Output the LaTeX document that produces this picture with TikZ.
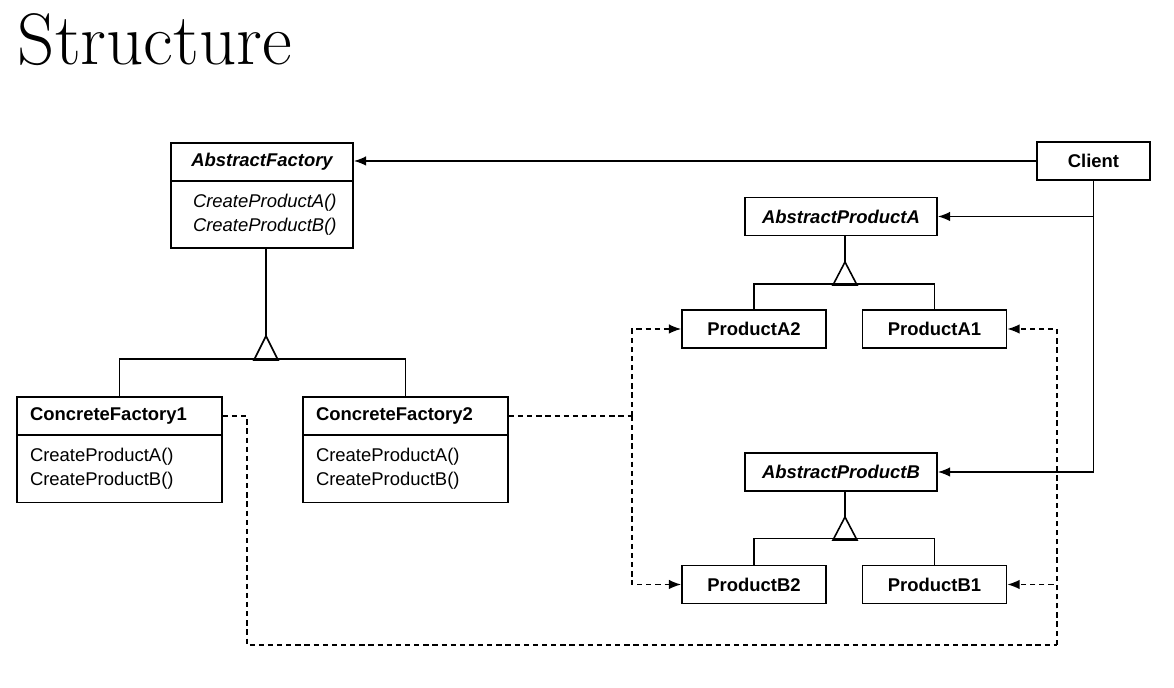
\documentclass[tikz,border=0pt]{standalone}
\usepackage{fontspec}
\setsansfont{Liberation Sans}
\usetikzlibrary{arrows.meta}
\tikzset{
  hd/.style={draw, line width=1pt, minimum height=0.76cm, inner sep=0pt, font=\sffamily\bfseries\fontsize{10.5}{13.6}\selectfont},
  bd/.style={draw, line width=1pt, minimum height=1.34cm, inner ysep=0pt, align=left, font=\sffamily\fontsize{10.5}{13.6}\selectfont},
  arr/.style={line width=0.9pt, -{Latex[length=7pt,width=5.5pt]}},
  dsh/.style={line width=0.9pt, dash pattern=on 3pt off 2.2pt},
}
\begin{document}
\begin{tikzpicture}[x=0.02cm,y=-0.02cm, line width=0.9pt]
\useasboundingbox (0,0) rectangle (1174,688);
\node [anchor=base west, inner sep=0pt, font=\fontsize{41.5}{44}\selectfont] (title) at (17,65) {Structure};

\node [hd, minimum width=3.64cm] (afh) at (262,162) {\itshape AbstractFactory};
\node [bd, text width=2.76cm, inner xsep=0.44cm, font=\sffamily\itshape\fontsize{10.5}{13.6}\selectfont] (afb) at (262,214.5) {CreateProductA()\\CreateProductB()};

\node [hd, text width=3.58cm, inner xsep=0.26cm, align=left] (cf1h) at (119.5,416) {ConcreteFactory1};
\node [bd, text width=3.58cm, inner xsep=0.26cm] (cf1b) at (119.5,469) {CreateProductA()\\CreateProductB()};
\node [hd, text width=3.58cm, inner xsep=0.26cm, align=left] (cf2h) at (405.5,416) {ConcreteFactory2};
\node [bd, text width=3.58cm, inner xsep=0.26cm] (cf2b) at (405.5,469) {CreateProductA()\\CreateProductB()};

\node [hd, minimum width=2.26cm] (client) at (1093.5,161) {Client};

\node [hd, minimum width=3.84cm] (apa) at (841,216.5) {\itshape AbstractProductA};
\node [hd, minimum width=2.88cm] (pa2) at (754,329) {ProductA2};
\node [hd, minimum width=2.88cm] (pa1) at (934.5,329) {ProductA1};

\node [hd, minimum width=3.84cm] (apb) at (841,472) {\itshape AbstractProductB};
\node [hd, minimum width=2.88cm] (pb2) at (754,584.5) {ProductB2};
\node [hd, minimum width=2.88cm] (pb1) at (934.5,584.5) {ProductB1};

\coordinate (afk) at (266,336);
\draw (afb.south -| afk) -- (afk);
\draw (afk) -- ++(-12,24) -- ++(24,0) -- cycle;
\draw (cf1h.north) -- ++(0,-37) -| (cf2h.north);

\coordinate (pak) at (845,262);
\draw (apa.south -| pak) -- (pak);
\draw (pak) -- ++(-12,23) -- ++(24,0) -- cycle;
\draw (pa2.north) -- ++(0,-25) -| (pa1.north);

\coordinate (pbk) at (845,517);
\draw (apb.south -| pbk) -- (pbk);
\draw (pbk) -- ++(-12,23) -- ++(24,0) -- cycle;
\draw (pb2.north) -- ++(0,-26) -| (pb1.north);

\draw [arr] (client.west) -- (afh.east |- client.west);
\draw [arr] (client.south) |- (apa.east);
\draw [arr] (client.south) |- (apb.east);

\coordinate (d2) at (632,416);
\draw [dsh] (cf2h.east) -- (d2);
\draw [dsh, arr] (d2) |- (pa2.west);
\draw [dsh, arr] (d2) |- (pb2.west);

\coordinate (d1a) at (247,645);
\coordinate (d1) at (1057,645);
\draw [dsh] (cf1h.east) -| (d1a) -- (d1);
\draw [dsh, arr] (d1) |- (pa1.east);
\draw [dsh, arr] (d1) |- (pb1.east);
\end{tikzpicture}
\end{document}
